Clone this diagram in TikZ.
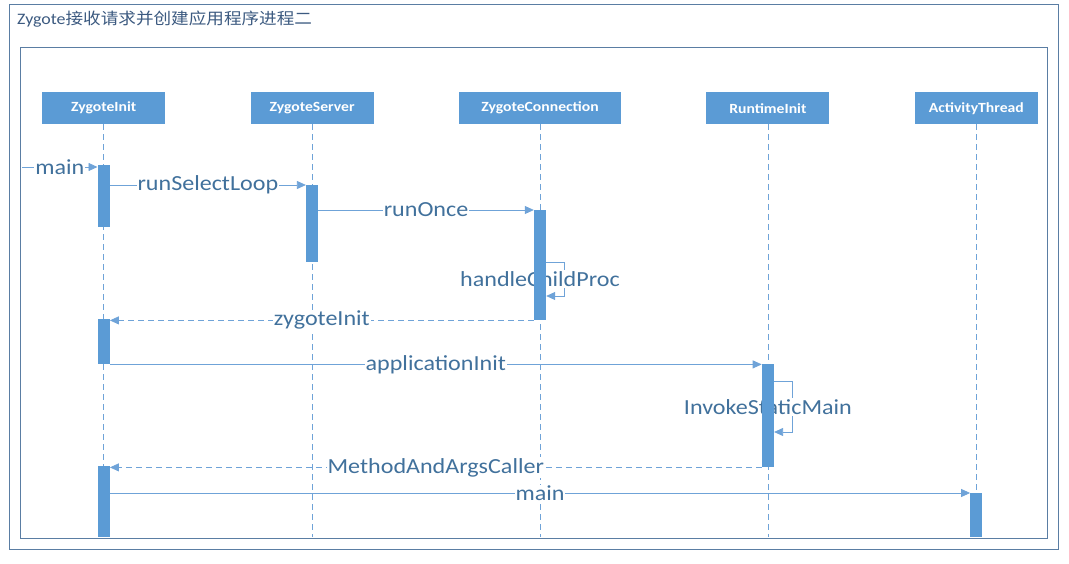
\documentclass[tikz,border=0pt]{standalone}
\usepackage{fontspec}
\setmainfont[FakeStretch=1.12]{Carlito}
\newfontfamily\cjk[FakeStretch=1.1]{Noto Sans CJK SC}
\usetikzlibrary{positioning, arrows.meta}
\definecolor{boxblue}{HTML}{5B9BD5}
\definecolor{lineblue}{HTML}{6FA3D8}
\definecolor{textblue}{HTML}{41719C}
\definecolor{framegray}{HTML}{5A7DA3}
\definecolor{titlecol}{HTML}{3C5A80}
\pgfdeclarelayer{back}
\pgfsetlayers{back,main}

\begin{document}
\begin{tikzpicture}[x=1pt, y=-1pt,
    node distance=85pt,
    obj/.style={rectangle, fill=boxblue, text=white, font=\fontsize{14}{16}\selectfont\bfseries, minimum width=123pt, minimum height=32pt, inner sep=0pt},
    bar/.style={rectangle, fill=boxblue, minimum width=12pt, inner sep=0pt, anchor=north},
    life/.style={draw=lineblue, dash pattern=on 6pt off 4pt, line width=0.8pt},
    msg/.style={draw=lineblue, line width=0.8pt, -{Triangle[length=9pt,width=8pt]}},
    ret/.style={msg, dash pattern=on 6pt off 4pt},
    lbl/.style={fill=white, text=textblue, font=\fontsize{21.5}{23}\selectfont, inner sep=1pt},
]
\useasboundingbox (0,0) rectangle (1069,564);
\draw[framegray, line width=0.8pt] (9,4) rectangle (1058,549);
\draw[framegray, line width=0.8pt] (20,47) rectangle (1047,538);
\node[anchor=west, text=titlecol, font=\fontsize{16}{18}\selectfont, inner sep=0pt] (title) at (17,19) {Zygote{\cjk 接收请求并创建应用程序进程二}};

% objects
\node[obj, anchor=north west] (zi) at (42,92) {ZygoteInit};
\node[obj, right=of zi] (zs) {ZygoteServer};
\node[obj, right=of zs, minimum width=162pt] (zc) {ZygoteConnection};
\node[obj, right=of zc] (ri) {RuntimeInit};
\node[obj, right=of ri] (at) {ActivityThread};

% activations
\node[bar, minimum height=62pt] (zi1) at (zi |- 0,165) {};
\node[bar, minimum height=77pt] (zs1) at (zs |- 0,185) {};
\node[bar, minimum height=110pt] (zc1) at (zc |- 0,210) {};
\node[bar, minimum height=45pt] (zi2) at (zi |- 0,319) {};
\node[bar, minimum height=103pt] (ri1) at (ri |- 0,364) {};
\node[bar, minimum height=71pt] (zi3) at (zi |- 0,466) {};
\node[bar, minimum height=44pt] (at1) at (at |- 0,493) {};

\begin{pgfonlayer}{back}
\foreach \o in {zi, zs, zc, ri, at}
    \draw[life] (\o.south) -- (\o.south |- 0,537);

\coordinate (start) at (22,167);
\draw[msg] (start) -- node[lbl] (m1) {main} (start -| zi1.west);
\draw[msg] (zi1.east |- zs1.north) -- node[lbl] (m2) {runSelectLoop} (zs1.north west);
\draw[msg] (zs1.east |- zc1.north) -- node[lbl] (m3) {runOnce} (zc1.north west);
\draw[msg] ([yshift=-52pt]zc1.north east) -- ++(18,0) -- ++(0,34) -- ++(-18,0);
\node[lbl] (m4) at (zc |- 0,279) {handleChildProc};
\draw[ret] (zc1.south west) -- node[lbl] (m5) {zygoteInit} (zc1.south west -| zi2.east);
\draw[msg] (zi2.south east) -- node[lbl] (m6) {applicationInit} (zi2.south east -| ri1.west);
\draw[msg] ([yshift=-17pt]ri1.north east) -- ++(18,0) -- ++(0,51) -- ++(-18,0);
\node[lbl] (m7) at (ri |- 0,407) {InvokeStaticMain};
\draw[ret] (ri1.south west) -- node[lbl] (m8) {MethodAndArgsCaller} (ri1.south west -| zi3.east);
\draw[msg] (zi3.east |- at1.north) -- node[lbl] (m9) {main} (at1.north west);
\end{pgfonlayer}
\end{tikzpicture}
\end{document}
